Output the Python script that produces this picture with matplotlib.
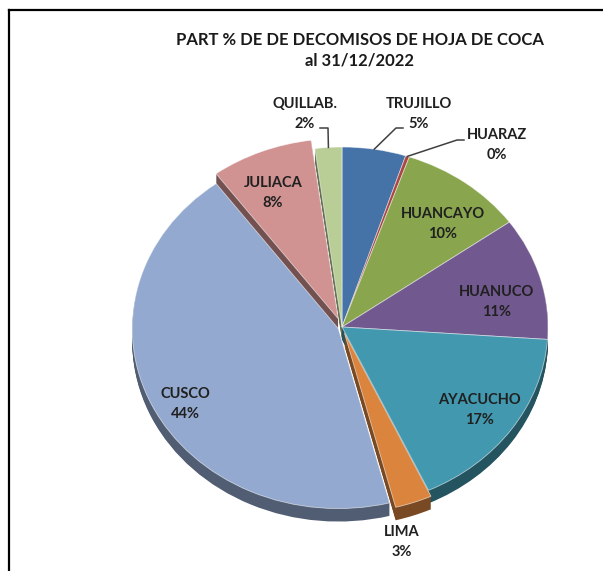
import matplotlib
matplotlib.use("Agg")
import matplotlib.pyplot as plt
import numpy as np
from matplotlib.lines import Line2D
from matplotlib.colors import to_rgb

# ---- data ----
categories = ["TRUJILLO", "HUARAZ", "HUANCAYO", "HUANUCO", "AYACUCHO",
              "LIMA", "CUSCO", "JULIACA", "QUILLAB."]
values = [5.0, 0.3, 9.8, 11.0, 17.0, 2.9, 43.9, 8.0, 2.1]
title_lines = ["PART % DE DE DECOMISOS DE HOJA DE COCA", "al 31/12/2022"]

# ---- style ----
colors = ["#4572A7", "#AA4643", "#89A54E", "#71588F", "#4198AF",
          "#DB843D", "#93A9CF", "#D19392", "#B9CD96"]
explode = [0.0, 0.0, 0.0, 0.0, 0.0, 0.035, 0.02, 0.05, 0.0]

W, H = 603, 571
CX, CY = 342, 327          # pie centre in px (from top-left)
RX, RY = 206, 180          # radii in px
DEPTH = 13                 # 3D side depth px

fig = plt.figure(figsize=(W / 100, H / 100), dpi=100)
ax = fig.add_axes([0, 0, 1, 1])


def px(x, y):
    return (x - CX) / RX, (CY - y) / RY


def darker(c, f=0.55):
    r, g, b = to_rgb(c)
    return (r * f, g * f, b * f)


side_colors = [darker(c) for c in colors]

# side (depth) layers
steps = np.linspace(DEPTH, 1, DEPTH)
for d in steps:
    ax.pie(values, colors=side_colors, explode=explode, startangle=90,
           counterclock=False, center=(0, -d / RY), radius=1.0,
           wedgeprops=dict(linewidth=0), normalize=True)

# top face
wedges, _ = ax.pie(values, colors=colors, explode=explode, startangle=90,
                   counterclock=False, center=(0, 0), radius=1.0,
                   wedgeprops=dict(linewidth=0.6, edgecolor=(1, 1, 1, 0.6)),
                   normalize=True)

ax.set_xlim(-CX / RX, (W - CX) / RX)
ax.set_ylim(-(H - CY) / RY, CY / RY)
ax.set_aspect("auto")
ax.axis("off")

# ---- labels ----
total = sum(values)
label_pos = {
    "TRUJILLO": (419, 114), "HUARAZ": (497, 145), "HUANCAYO": (443, 224),
    "HUANUCO": (497, 302), "AYACUCHO": (479, 410), "LIMA": (402, 542),
    "CUSCO": (185, 404), "JULIACA": (273, 193), "QUILLAB.": (305, 114),
}
label_font = dict(family=["Lato", "DejaVu Sans"], fontsize=10.5,
                  fontweight="bold", color="#202020")
for name, v in zip(categories, values):
    x, y = px(*label_pos[name])
    ax.text(x, y, f"{name}\n{round(v / total * 100):.0f}%", ha="center",
            va="center", linespacing=1.6, **label_font)

# leader lines (anchor on rim computed from wedge angle)
def rim_point(i):
    w = wedges[i]
    mid = np.deg2rad((w.theta1 + w.theta2) / 2)
    cx, cy = w.center
    return cx + np.cos(mid), cy + np.sin(mid)

leaders = {
    "QUILLAB.": [(328, 128), (320, 128)],
    "TRUJILLO": [(396, 128), (403, 128)],
    "HUARAZ": [(457, 140), (464, 140)],
}
for name, pts in leaders.items():
    i = categories.index(name)
    ax0, ay0 = rim_point(i)
    xs = [ax0] + [px(*p)[0] for p in pts]
    ys = [ay0] + [px(*p)[1] for p in pts]
    ax.plot(xs, ys, color="#404040", lw=1.1)

# ---- title ----
for yy, line in zip([40, 61], title_lines):
    fig.text(360 / W, 1 - yy / H, line, ha="center", va="center",
             family=["Lato", "DejaVu Sans"], fontsize=12, fontweight="bold",
             color="#1A1A1A")

# frame lines (left and top of the chart area)
fig.add_artist(Line2D([8.5 / W, 8.5 / W], [0, 1 - 9.5 / H],
                      transform=fig.transFigure, color="black", lw=1.6))
fig.add_artist(Line2D([8.5 / W, 1], [1 - 9.5 / H, 1 - 9.5 / H],
                      transform=fig.transFigure, color="black", lw=1.6))

fig.savefig("out.png", dpi=100, facecolor="white")
